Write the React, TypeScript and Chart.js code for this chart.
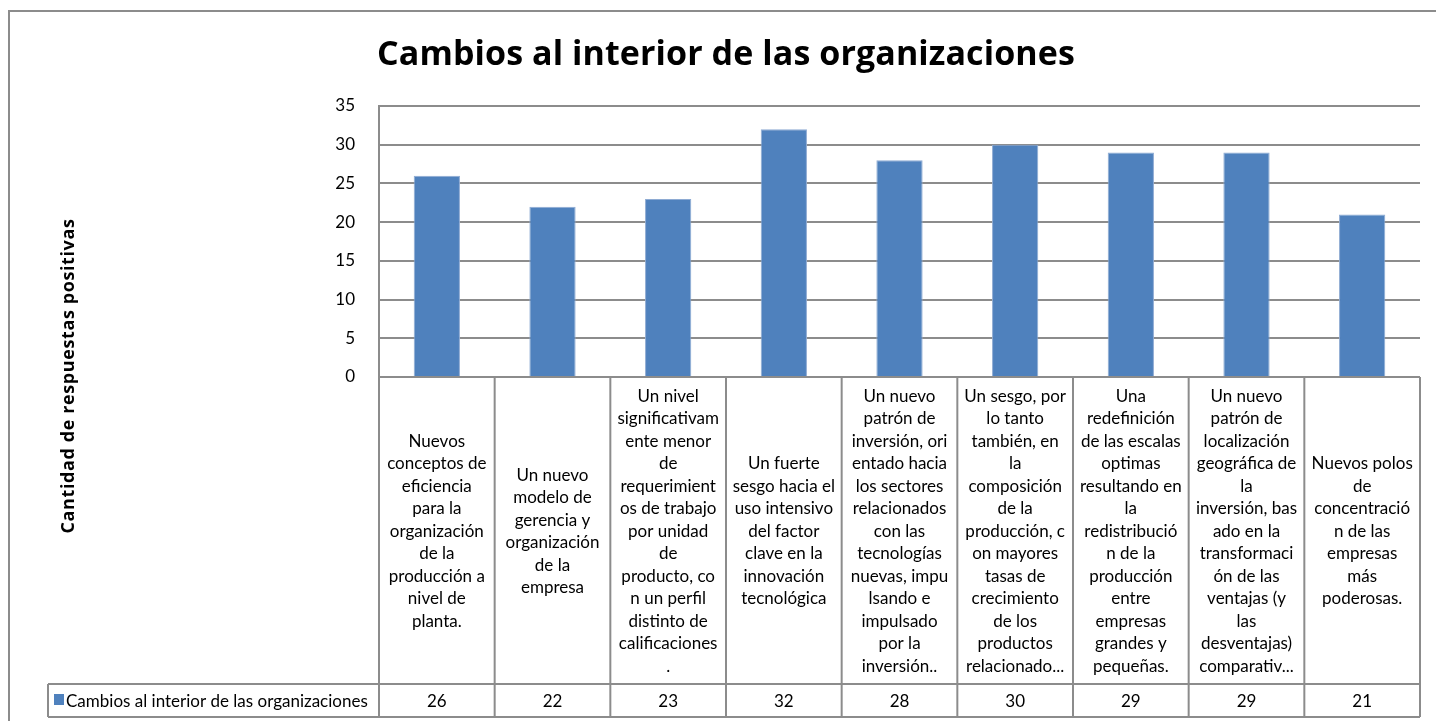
import React, { useEffect, useRef } from "react";
import { Chart, registerables } from "chart.js";

Chart.register(...registerables);

const TITLE = "Cambios al interior de las organizaciones";
const SERIES_NAME = "Cambios al interior de las organizaciones";
const Y_TITLE = "Cantidad de respuestas positivas";

const categories: string[][] = [
  ["Nuevos", "conceptos de", "eficiencia", "para la", "organización", "de la", "producción a", "nivel de", "planta."],
  ["Un nuevo", "modelo de", "gerencia y", "organización", "de la", "empresa"],
  ["Un nivel", "significativam", "ente menor", "de", "requerimient", "os de trabajo", "por unidad", "de", "producto, co", "n un perfil", "distinto de", "calificaciones", "."],
  ["Un fuerte", "sesgo hacia el", "uso intensivo", "del factor", "clave en la", "innovación", "tecnológica"],
  ["Un nuevo", "patrón de", "inversión, ori", "entado hacia", "los sectores", "relacionados", "con las", "tecnologías", "nuevas, impu", "lsando e", "impulsado", "por la", "inversión.."],
  ["Un sesgo, por", "lo tanto", "también, en", "la", "composición", "de la", "producción, c", "on mayores", "tasas de", "crecimiento", "de los", "productos", "relacionado..."],
  ["Una", "redefinición", "de las escalas", "optimas", "resultando en", "la", "redistribució", "n de la", "producción", "entre", "empresas", "grandes y", "pequeñas."],
  ["Un nuevo", "patrón de", "localización", "geográfica de", "la", "inversión, bas", "ado en la", "transformaci", "ón de las", "ventajas (y", "las", "desventajas)", "comparativ..."],
  ["Nuevos polos", "de", "concentració", "n de las", "empresas", "más", "poderosas."],
];

const values: number[] = [26, 22, 23, 32, 28, 30, 29, 29, 21];

const Y_MIN = 0;
const Y_MAX = 35;
const Y_STEP = 5;

const BAR_COLOR = "#4F81BD";
const LINE_COLOR = "#8c8c8c";
const FONT = "Lato, 'Open Sans', sans-serif";
const TITLE_FONT = "'Open Sans', Lato, sans-serif";

function fitText(ctx: any, text: string, font: string, targetWidth: number) {
  ctx.font = font;
  ctx.letterSpacing = "0px";
  const w = ctx.measureText(text).width;
  const sp = (targetWidth - w) / text.length;
  ctx.letterSpacing = `${sp.toFixed(2)}px`;
}

const excelTable = {
  id: "excelTable",
  afterDraw(chart: any) {
    const { ctx, chartArea, scales } = chart;
    const xs = scales.x;
    const n = chart.data.labels.length;
    const half = (xs.getPixelForValue(1) - xs.getPixelForValue(0)) / 2;
    const bounds: number[] = [];
    for (let i = 0; i < n; i++) bounds.push(xs.getPixelForValue(i) - half);
    bounds.push(xs.getPixelForValue(n - 1) + half);

    const top = chartArea.bottom;
    const rowTop = 684;
    const rowBottom = 717;
    const legendLeft = 48;
    const plotLeft = chartArea.left;
    const right = bounds[n];

    ctx.save();
    ctx.strokeStyle = LINE_COLOR;
    ctx.lineWidth = 2;
    const line = (x1: number, y1: number, x2: number, y2: number) => {
      ctx.beginPath();
      ctx.moveTo(x1, y1);
      ctx.lineTo(x2, y2);
      ctx.stroke();
    };
    // outer chart border
    ctx.strokeRect(9, 11, 1460, 740);

    line(plotLeft, top, right, top);
    line(legendLeft, rowTop, right, rowTop);
    line(legendLeft, rowBottom, right, rowBottom);
    for (let i = 0; i <= n; i++) line(bounds[i], top, bounds[i], rowBottom);
    line(legendLeft, rowTop, legendLeft, rowBottom);

    // category labels
    ctx.fillStyle = "#000";
    ctx.font = `17px ${FONT}`;
    ctx.textAlign = "center";
    ctx.textBaseline = "middle";
    const lh = 22.5;
    const midY = (top + rowTop) / 2 + 1;
    for (let i = 0; i < n; i++) {
      const lines: string[] = chart.data.labels[i];
      const cx = xs.getPixelForValue(i);
      const y0 = midY - ((lines.length - 1) * lh) / 2;
      lines.forEach((t, k) => ctx.fillText(t, cx, y0 + k * lh));
    }
    // values row
    const ds = chart.data.datasets[0];
    const vy = (rowTop + rowBottom) / 2 + 1;
    ds.data.forEach((v: number, i: number) => {
      ctx.fillText(String(v), xs.getPixelForValue(i), vy);
    });
    // legend key
    ctx.fillStyle = BAR_COLOR;
    ctx.fillRect(54, 694, 10, 11);
    ctx.fillStyle = "#000";
    ctx.textAlign = "left";
    ctx.fillText(ds.label, 66, vy);

    // title
    ctx.save();
    fitText(ctx, TITLE, `bold 34px ${TITLE_FONT}`, 698);
    ctx.textAlign = "center";
    ctx.textBaseline = "alphabetic";
    ctx.fillText(TITLE, 726, 65);
    ctx.restore();

    // y axis title
    ctx.save();
    ctx.translate(74, 376);
    ctx.rotate(-Math.PI / 2);
    fitText(ctx, Y_TITLE, `bold 18px ${TITLE_FONT}`, 315);
    ctx.textAlign = "center";
    ctx.textBaseline = "alphabetic";
    ctx.fillText(Y_TITLE, 0, 0);
    ctx.restore();

    ctx.restore();
  },
};

export default function App() {
  const ref = useRef<HTMLCanvasElement | null>(null);
  useEffect(() => {
    document.body.style.margin = "0";
    document.body.style.overflow = "hidden";
    const canvas = ref.current;
    if (!canvas) return;
    const chart = new Chart(canvas, {
      type: "bar",
      data: {
        labels: categories as any,
        datasets: [
          {
            label: SERIES_NAME,
            data: values,
            backgroundColor: BAR_COLOR,
            borderColor: "#8eabd3",
            borderWidth: 1,
            barPercentage: 0.4,
            categoryPercentage: 1,
          },
        ],
      },
      options: {
        responsive: false,
        animation: false,
        devicePixelRatio: 1,
        layout: { padding: { left: 0, right: 16, top: 106, bottom: 4 } },
        plugins: {
          legend: { display: false },
          title: { display: false },
          tooltip: { enabled: false },
        },
        scales: {
          x: {
            type: "category",
            offset: true,
            grid: { display: false },
            border: { display: false },
            ticks: { display: false },
            afterFit(scale: any) {
              scale.height = 340;
            },
          },
          y: {
            min: Y_MIN,
            max: Y_MAX,
            ticks: {
              stepSize: Y_STEP,
              padding: 24,
              color: "#000",
              font: { family: FONT, size: 17 },
            },
            grid: { color: LINE_COLOR, lineWidth: 2, drawTicks: false },
            border: { display: true, color: LINE_COLOR, width: 2 },
            afterFit(scale: any) {
              scale.width = 379;
            },
          },
        },
      },
      plugins: [excelTable],
    });
    return () => chart.destroy();
  }, []);
  return <canvas ref={ref} width={1436} height={721} style={{ display: "block" }} />;
}
